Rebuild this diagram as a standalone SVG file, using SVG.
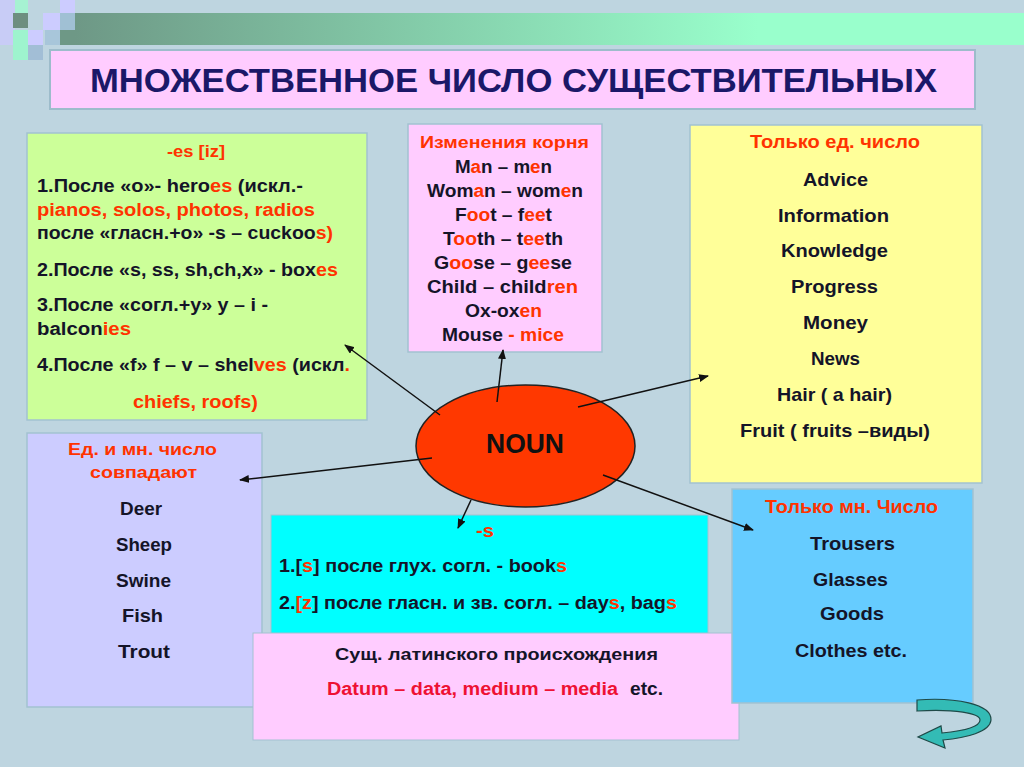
<svg xmlns="http://www.w3.org/2000/svg" width="1024" height="767" viewBox="0 0 1024 767">
<defs>
<linearGradient id="bar" x1="0" y1="0" x2="1" y2="0">
<stop offset="0" stop-color="#6E9886"/>
<stop offset="0.72" stop-color="#99FFCC"/>
<stop offset="1" stop-color="#99FFCC"/>
</linearGradient>
<marker id="ah" markerUnits="userSpaceOnUse" markerWidth="10" markerHeight="8" refX="9" refY="4" orient="auto">
<path d="M0,0 L10,4 L0,8 z" fill="#111"/>
</marker>
<style>
.box{stroke:#A3C2D1;stroke-width:1.5}
.t{font-family:"Liberation Sans",Arial,sans-serif;font-weight:bold;fill:#141428}
.r{fill:#FF3300}
.c{stroke:#111;stroke-width:1.5;fill:none;marker-end:url(#ah)}
</style>
</defs>
<rect width="1024" height="767" fill="#BED5E0"/>
<g id="decor">
<rect x="0" y="0" width="15" height="45" fill="#C8CCF6"/>
<rect x="15" y="0" width="13" height="13" fill="#A6F2D2"/>
<rect x="13" y="13" width="15" height="15" fill="#6E8E80"/>
<rect x="13" y="30" width="15" height="30" fill="#9EF4CE"/>
<rect x="28" y="30" width="15" height="15" fill="#CCCCFF"/>
<rect x="43" y="13" width="17" height="17" fill="#CCCCFF"/>
<rect x="45" y="30" width="15" height="15" fill="#A8C6DA"/>
<rect x="28" y="45" width="15" height="15" fill="#A2BED6"/>
<rect x="60" y="0" width="15" height="13" fill="#CCCCFF"/>
<rect x="60" y="13" width="15" height="17" fill="#A0C0D4"/>
<rect x="60" y="30" width="15" height="15" fill="#6E9886"/>
<rect x="75" y="13" width="949" height="32" fill="url(#bar)"/>
</g>
<g id="title">
<rect x="50" y="50" width="925" height="59" fill="#FFCCFF" stroke="#9DBCCB" stroke-width="2"/>
<text class="t" x="90" y="92" font-size="34" textLength="847" lengthAdjust="spacingAndGlyphs" style="fill:#1B1868">МНОЖЕСТВЕННОЕ ЧИСЛО СУЩЕСТВИТЕЛЬНЫХ</text>
</g>
<g id="es-box">
<rect class="box" x="27" y="133" width="340" height="287" fill="#CCFF99"/>
<text class="t r" x="167" y="157" font-size="17" textLength="58" lengthAdjust="spacingAndGlyphs">-es [iz]</text>
<text class="t" x="37" y="192" font-size="18" textLength="266" lengthAdjust="spacingAndGlyphs">1.После «о»- hero<tspan class="r">es</tspan> (искл.-</text>
<text class="t r" x="37" y="216" font-size="18" textLength="278" lengthAdjust="spacingAndGlyphs">pianos, solos, photos, radios</text>
<text class="t" x="37" y="239" font-size="18" textLength="296" lengthAdjust="spacingAndGlyphs">после «гласн.+о» -s – cuckoo<tspan class="r">s)</tspan></text>
<text class="t" x="37" y="276" font-size="18" textLength="301" lengthAdjust="spacingAndGlyphs">2.После «s, ss, sh,ch,x» - box<tspan class="r">es</tspan></text>
<text class="t" x="37" y="311" font-size="18" textLength="231" lengthAdjust="spacingAndGlyphs">3.После «согл.+y» y – i -</text>
<text class="t" x="37" y="335" font-size="18" textLength="94" lengthAdjust="spacingAndGlyphs">balcon<tspan class="r">ies</tspan></text>
<text class="t" x="37" y="371" font-size="18" textLength="313" lengthAdjust="spacingAndGlyphs">4.После «f» f – v – shel<tspan class="r">ves</tspan> (искл<tspan class="r">.</tspan></text>
<text class="t r" x="133" y="408" font-size="18" textLength="125" lengthAdjust="spacingAndGlyphs">chiefs, roofs)</text>
</g>
<g id="root-box">
<rect class="box" x="408" y="124" width="194" height="228" fill="#FFCCFF"/>
<text class="t r" x="420" y="148" font-size="17" textLength="169" lengthAdjust="spacingAndGlyphs">Изменения корня</text>
<text class="t" x="455" y="173" font-size="18" textLength="97" lengthAdjust="spacingAndGlyphs">M<tspan class="r">a</tspan>n – m<tspan class="r">e</tspan>n</text>
<text class="t" x="427" y="197" font-size="18" textLength="156" lengthAdjust="spacingAndGlyphs">Wom<tspan class="r">a</tspan>n – wom<tspan class="r">e</tspan>n</text>
<text class="t" x="455" y="221" font-size="18" textLength="97" lengthAdjust="spacingAndGlyphs">F<tspan class="r">oo</tspan>t – f<tspan class="r">ee</tspan>t</text>
<text class="t" x="443" y="245" font-size="18" textLength="120" lengthAdjust="spacingAndGlyphs">T<tspan class="r">oo</tspan>th – t<tspan class="r">ee</tspan>th</text>
<text class="t" x="434" y="269" font-size="18" textLength="138" lengthAdjust="spacingAndGlyphs">G<tspan class="r">oo</tspan>se – g<tspan class="r">ee</tspan>se</text>
<text class="t" x="427" y="293" font-size="18" textLength="151" lengthAdjust="spacingAndGlyphs">Child – child<tspan class="r">ren</tspan></text>
<text class="t" x="465" y="317" font-size="18" textLength="77" lengthAdjust="spacingAndGlyphs">Ox-ox<tspan class="r">en</tspan></text>
<text class="t" x="442" y="341" font-size="18" textLength="122" lengthAdjust="spacingAndGlyphs">Mouse<tspan class="r"> - mice</tspan></text>
</g>
<g id="singular-box">
<rect class="box" x="690" y="125" width="292" height="358" fill="#FFFF99"/>
<text class="t r" x="750" y="148" font-size="18" textLength="170" lengthAdjust="spacingAndGlyphs">Только ед. число</text>
<text class="t" x="803" y="186" font-size="19" textLength="65" lengthAdjust="spacingAndGlyphs">Advice</text>
<text class="t" x="778" y="222" font-size="19" textLength="111" lengthAdjust="spacingAndGlyphs">Information</text>
<text class="t" x="781" y="257" font-size="19" textLength="107" lengthAdjust="spacingAndGlyphs">Knowledge</text>
<text class="t" x="791" y="293" font-size="19" textLength="87" lengthAdjust="spacingAndGlyphs">Progress</text>
<text class="t" x="803" y="329" font-size="19" textLength="65" lengthAdjust="spacingAndGlyphs">Money</text>
<text class="t" x="811" y="365" font-size="19" textLength="49" lengthAdjust="spacingAndGlyphs">News</text>
<text class="t" x="777" y="401" font-size="19" textLength="115" lengthAdjust="spacingAndGlyphs">Hair ( a hair)</text>
<text class="t" x="740" y="437" font-size="19" textLength="190" lengthAdjust="spacingAndGlyphs">Fruit ( fruits –виды)</text>
</g>
<g id="same-box">
<rect class="box" x="27" y="433" width="235" height="274" fill="#CCCCFF"/>
<text class="t r" x="68" y="455" font-size="17" textLength="149" lengthAdjust="spacingAndGlyphs">Ед. и мн. число</text>
<text class="t r" x="90" y="478" font-size="17" textLength="107" lengthAdjust="spacingAndGlyphs">совпадают</text>
<text class="t" x="120" y="515" font-size="19" textLength="42" lengthAdjust="spacingAndGlyphs">Deer</text>
<text class="t" x="116" y="551" font-size="19" textLength="56" lengthAdjust="spacingAndGlyphs">Sheep</text>
<text class="t" x="116" y="587" font-size="19" textLength="55" lengthAdjust="spacingAndGlyphs">Swine</text>
<text class="t" x="122" y="622" font-size="19" textLength="41" lengthAdjust="spacingAndGlyphs">Fish</text>
<text class="t" x="118" y="658" font-size="19" textLength="52" lengthAdjust="spacingAndGlyphs">Trout</text>
</g>
<g id="s-box">
<rect x="271" y="515" width="437" height="125" fill="#00FFFF" stroke="#A3C2D1" stroke-width="1"/>
<text class="t r" x="476" y="537" font-size="18" textLength="18" lengthAdjust="spacingAndGlyphs">-s</text>
<text class="t" x="279" y="572" font-size="18" textLength="288" lengthAdjust="spacingAndGlyphs">1.[<tspan class="r">s</tspan>] после глух. согл. - book<tspan class="r">s</tspan></text>
<text class="t" x="279" y="609" font-size="18" textLength="398" lengthAdjust="spacingAndGlyphs">2.<tspan class="r">[z</tspan>] после гласн. и зв. согл. – day<tspan class="r">s</tspan>, bag<tspan class="r">s</tspan></text>
</g>
<g id="latin-box">
<rect x="253" y="633" width="486" height="107" fill="#FFCCFF" stroke="#A3C2D1" stroke-width="1"/>
<text class="t" x="335" y="660" font-size="17" textLength="323" lengthAdjust="spacingAndGlyphs">Сущ. латинского происхождения</text>
<text class="t" x="327" y="695" font-size="18" textLength="291" lengthAdjust="spacingAndGlyphs" style="fill:#EE1133">Datum – data, medium – media</text>
<text class="t" x="630" y="695" font-size="18" textLength="33" lengthAdjust="spacingAndGlyphs">etc.</text>
</g>
<g id="plural-box">
<rect class="box" x="732" y="489" width="241" height="214" fill="#66CCFF"/>
<text class="t r" x="765" y="513" font-size="18" textLength="173" lengthAdjust="spacingAndGlyphs">Только мн. Число</text>
<text class="t" x="810" y="550" font-size="19" textLength="85" lengthAdjust="spacingAndGlyphs">Trousers</text>
<text class="t" x="813" y="586" font-size="19" textLength="75" lengthAdjust="spacingAndGlyphs">Glasses</text>
<text class="t" x="820" y="620" font-size="19" textLength="64" lengthAdjust="spacingAndGlyphs">Goods</text>
<text class="t" x="795" y="657" font-size="19" textLength="112" lengthAdjust="spacingAndGlyphs">Clothes etc.</text>
</g>
<g id="noun">
<ellipse cx="525.5" cy="446" rx="109.5" ry="61" fill="#FF3800" stroke="#222" stroke-width="1.5"/>
<text class="t" x="486" y="453" font-size="27" textLength="78" lengthAdjust="spacingAndGlyphs" style="fill:#111">NOUN</text>
</g>
<g id="connectors">
<line class="c" x1="440" y1="415" x2="345" y2="345"/>
<line class="c" x1="497" y1="402" x2="503" y2="350"/>
<line class="c" x1="578" y1="407" x2="708" y2="376"/>
<line class="c" x1="432" y1="458" x2="240" y2="480"/>
<line class="c" x1="471" y1="500" x2="458" y2="528"/>
<line class="c" x1="603" y1="475" x2="753" y2="530"/>
</g>
<g id="return-arrow">
<path d="M917,700 C955,697 992,704 991,720 C990,732 966,738 943,740 L945,748 L918,737 L941,726 L942,733 C962,731 980,727 980,720 C980,713 955,709 917,711 Z" fill="#33BBB5" stroke="#1F4A48" stroke-width="1.2"/>
</g>
</svg>
